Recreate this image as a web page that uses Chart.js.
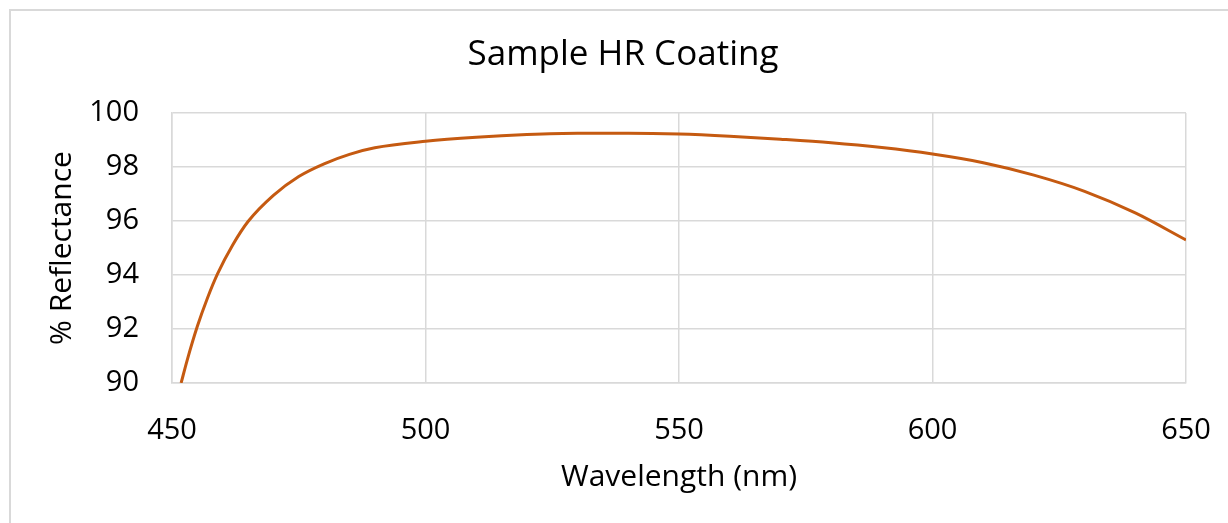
<!DOCTYPE html>
<html>
<head>
<meta charset="utf-8">
<script src="https://cdn.jsdelivr.net/npm/chart.js@4/dist/chart.umd.min.js"></script>
<style>
  body { margin: 0; background: #fff; overflow: hidden; }
  #frame { position: absolute; left: 9px; top: 9px; width: 1400px; height: 700px; border: 2px solid #d9d9d9; }
  #myChart { position: absolute; left: 0; top: 0; }
</style>
</head>
<body>
<div id="frame"></div>
<canvas id="myChart" width="1228" height="523"></canvas>
<script>
// values
var wavelengths = [451.8, 453, 455, 457, 459, 462, 465, 470, 475, 480, 485, 490, 500, 510, 520, 530, 540, 550, 560, 570, 580, 590, 600, 610, 620, 630, 640, 650];
var reflectance = [90.0, 90.85, 92.1, 93.15, 94.05, 95.12, 95.98, 96.95, 97.65, 98.12, 98.47, 98.71, 98.95, 99.1, 99.2, 99.25, 99.25, 99.22, 99.14, 99.03, 98.9, 98.72, 98.48, 98.16, 97.7, 97.1, 96.3, 95.3];
var xTicks = [450, 500, 550, 600, 650];
var yTicks = [90, 92, 94, 96, 98, 100];

var points = [];
for (var i = 0; i < wavelengths.length; i++) {
    points.push({ x: wavelengths[i], y: reflectance[i] });
}

var fontName = "'Open Sans', sans-serif";
var gridColor = "#d9d9d9";

new Chart(document.getElementById("myChart"), {
    type: 'line',
    data: {
        datasets: [{
            data: points,
            borderColor: "#c55a11",
            borderWidth: 3,
            pointRadius: 0,
            fill: false,
            cubicInterpolationMode: 'monotone'
        }]
    },
    options: {
        responsive: false,
        animation: false,
        devicePixelRatio: 1,
        layout: { padding: { left: 18, right: 0, top: 0, bottom: 0 } },
        plugins: {
            legend: { display: false },
            tooltip: { enabled: false },
            title: {
                display: true,
                text: 'Sample HR Coating',
                color: '#000',
                font: { family: fontName, size: 35, weight: 'normal' },
                padding: { top: 34, bottom: 37 }
            }
        },
        scales: {
            x: {
                type: 'linear',
                min: 450,
                max: 650,
                afterBuildTicks: function(scale) {
                    scale.ticks = xTicks.map(function(v) { return { value: v }; });
                },
                afterFit: function(scale) {
                    scale.height = 140;
                    scale.paddingLeft = 0;
                    scale.paddingRight = 42;
                },
                grid: { color: gridColor, lineWidth: 1.5, drawTicks: false },
                border: { color: gridColor, width: 1.5 },
                ticks: { color: '#000', font: { family: fontName, size: 29 }, padding: 30, maxRotation: 0 },
                title: {
                    display: true,
                    text: 'Wavelength (nm)',
                    color: '#000',
                    font: { family: fontName, size: 30 },
                    padding: { top: 0, bottom: 28 }
                }
            },
            y: {
                min: 90,
                max: 100,
                afterBuildTicks: function(scale) {
                    scale.ticks = yTicks.map(function(v) { return { value: v }; });
                },
                afterFit: function(scale) { scale.width = 154; },
                grid: { color: gridColor, lineWidth: 1.5, drawTicks: false },
                border: { color: gridColor, width: 1.5 },
                ticks: { color: '#000', font: { family: fontName, size: 29 }, padding: 33 },
                title: {
                    display: true,
                    text: '% Reflectance',
                    color: '#000',
                    font: { family: fontName, size: 30 },
                    padding: { top: 26, bottom: 0 }
                }
            }
        }
    }
});
</script>
</body>
</html>
